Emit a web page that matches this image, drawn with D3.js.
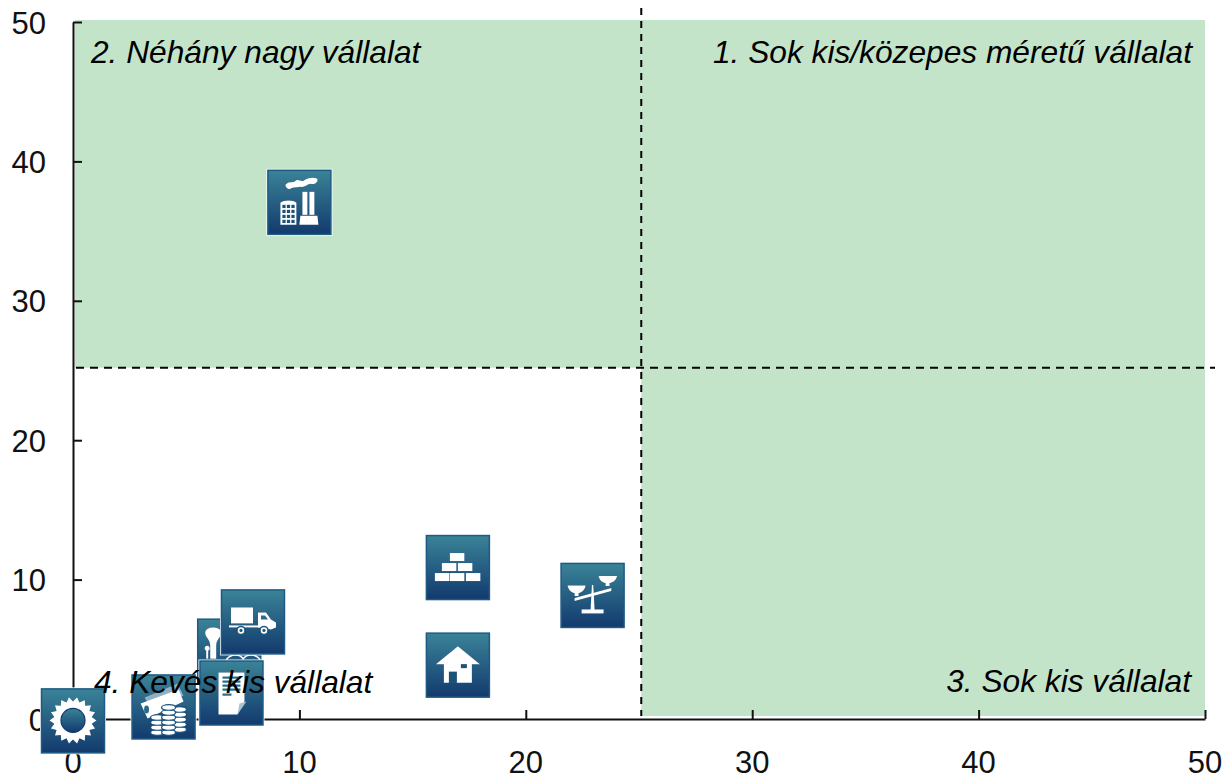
<!DOCTYPE html>
<html>
<head>
  <meta charset="UTF-8">
  <title>Vállalatok</title>
  <script src="https://d3js.org/d3.v7.min.js"></script>
  <style>
    html, body { margin: 0; padding: 0; background: #fff; }
    svg { display: block; }
    text { font-family: "Liberation Sans", Arial, sans-serif; fill: #000; }
    .tick-label { font-size: 31px; fill: #111; }
    .quad-label { font-size: 31.7px; font-style: italic; }
    .glyph { filter: drop-shadow(0 0 0.6px #123a6e); }
  </style>
</head>
<body>
  <div id="chart"></div>
  <script>
    const sectors = ["sun", "money", "tree", "doc", "truck", "house", "bricks", "scale", "factory"];
    const xValues = [0, 4, 6.9, 7, 7.95, 17, 17, 22.95, 10];
    const yValues = [-0.1, 0.9, 4.9, 1.9, 7, 3.9, 10.9, 8.9, 37.1];
    const tickValues = [0, 10, 20, 30, 40, 50];
    const splitX = 25.1;
    const splitY = 25.2;
    const quadrantNames = ["1. Sok kis/közepes méretű vállalat", "2. Néhány nagy vállalat", "3. Sok kis vállalat", "4. Kevés kis vállalat"];

    const width = 1223, height = 776;
    const x = d3.scaleLinear().domain([0, 50]).range([73, 1205]);
    const y = d3.scaleLinear().domain([0, 50]).range([719, 22]);

    const svg = d3.select("#chart").append("svg")
      .attr("width", width)
      .attr("height", height);

    const defs = svg.append("defs");
    const grad = defs.append("linearGradient")
      .attr("id", "iconBg")
      .attr("x1", 0).attr("y1", 0).attr("x2", 0).attr("y2", 1);
    grad.append("stop").attr("offset", "0%").attr("stop-color", "#3a8397");
    grad.append("stop").attr("offset", "100%").attr("stop-color", "#123a6e");

    // green quadrants
    const green = "#c3e4c9";
    svg.append("rect")
      .attr("x", x(0) + 2).attr("y", 20)
      .attr("width", x(splitX) - x(0) - 2).attr("height", y(splitY) - 20)
      .attr("fill", green);
    svg.append("rect")
      .attr("x", x(splitX)).attr("y", 20)
      .attr("width", x(50) - x(splitX)).attr("height", 716 - 20)
      .attr("fill", green);

    // axes, ticks point inwards
    const axisX = svg.append("g").attr("transform", `translate(0,${y(0)})`)
      .call(d3.axisTop(x).tickValues(tickValues).tickSize(9).tickSizeOuter(0).tickFormat(""));
    const axisY = svg.append("g").attr("transform", `translate(${x(0)},0)`)
      .call(d3.axisRight(y).tickValues(tickValues).tickSize(9).tickSizeOuter(0).tickFormat(""));
    [axisX, axisY].forEach(a => {
      a.selectAll("path,line").attr("stroke", "#111").attr("stroke-width", 2);
    });

    svg.selectAll(".xlab").data(tickValues).enter().append("text")
      .attr("class", "tick-label")
      .attr("x", d => x(d))
      .attr("y", 773)
      .attr("text-anchor", "middle")
      .text(d => d);
    svg.selectAll(".ylab").data(tickValues).enter().append("text")
      .attr("class", "tick-label")
      .attr("x", 46)
      .attr("y", d => y(d) + 11.5)
      .attr("text-anchor", "end")
      .text(d => d);

    // dashed split lines
    svg.append("line")
      .attr("x1", x(splitX)).attr("x2", x(splitX))
      .attr("y1", 8).attr("y2", 716)
      .attr("stroke", "#000").attr("stroke-width", 2).attr("stroke-dasharray", "7,6");
    svg.append("line")
      .attr("x1", x(0) + 3).attr("x2", 1215)
      .attr("y1", y(splitY)).attr("y2", y(splitY))
      .attr("stroke", "#000").attr("stroke-width", 2).attr("stroke-dasharray", "8,6");

    // icon glyphs, local box is -32..32
    const white = "#fff";
    const glyphs = {
      sun(g) {
        const n = 18, pts = [];
        for (let i = 0; i < n * 2; i++) {
          const r = i % 2 ? 19 : 23.5, a = i * Math.PI / n;
          pts.push([r * Math.cos(a), r * Math.sin(a)]);
        }
        g.append("polygon").attr("points", pts.join(" ")).attr("fill", white);
        g.append("circle").attr("r", 12).attr("fill", "url(#iconBg)")
          .attr("stroke", "#123a6e").attr("stroke-width", 1.2);
      },
      money(g) {
        g.append("path").attr("d", "M-19,-9L14,-23L20,-11L-12,4Z").attr("fill", "#8fb0c4");
        g.append("path").attr("d", "M-23,-3L15,-17L20,-5L-16,12Z").attr("fill", white);
        g.append("ellipse").attr("cx", -17).attr("cy", 3).attr("rx", 2.5).attr("ry", 4).attr("fill", "#2c6a8a");
        [[-6, 26, 4], [16, 23, 5], [5, 26, 6]].forEach(([cx, bottom, n]) => {
          for (let i = 0; i < n; i++) {
            g.append("ellipse").attr("cx", cx).attr("cy", bottom - i * 5)
              .attr("rx", 7).attr("ry", 2.8)
              .attr("fill", white).attr("stroke", "#1d5580").attr("stroke-width", 1.2);
          }
        });
      },
      tree(g) {
        g.append("path").attr("d", "M-24,-18C-24,-25 -8,-25 -8,-18C-8,-13 -13,-12 -13,-5L-13,8L-19,8L-19,-5C-19,-12 -24,-13 -24,-18Z").attr("fill", white);
        g.append("rect").attr("x", -23).attr("y", -1).attr("width", 2).attr("height", 9).attr("fill", white);
        g.append("circle").attr("cx", -22).attr("cy", -2.5).attr("r", 2.5).attr("fill", white);
        g.append("path").attr("d", "M-3,9C2,3 10,3 14,8C18,3 26,3 31,9")
          .attr("fill", "none").attr("stroke", white).attr("stroke-width", 1.6);
      },
      doc(g) {
        g.append("path").attr("d", "M-13,-20L13,-20L13,9L6,22L-13,22Z").attr("fill", white);
        [-16, -12, -8, -4].forEach(ly => {
          g.append("rect").attr("x", -9).attr("y", ly).attr("width", 18).attr("height", 2.2).attr("fill", "#2c6a8a");
        });
        g.append("rect").attr("x", -9).attr("y", 1).attr("width", 9).attr("height", 2.2).attr("fill", "#2c6a8a");
        g.append("path").attr("d", "M6,22L8,11L15,9Z").attr("fill", "#a9c3d3");
      },
      truck(g) {
        g.append("rect").attr("x", -22).attr("y", -14).attr("width", 22).attr("height", 16).attr("fill", white);
        g.append("rect").attr("x", -24).attr("y", 4).attr("width", 30).attr("height", 2).attr("fill", white);
        g.append("path").attr("d", "M5,-9L13,-9L18,-2L23,1L23,6L18,8L5,6Z").attr("fill", white);
        g.append("path").attr("d", "M8,-6L12,-6L15,-2L8,-2Z").attr("fill", "#2c6a8a");
        [-12, 11].forEach(cx => {
          g.append("circle").attr("cx", cx).attr("cy", 9).attr("r", 4)
            .attr("fill", white).attr("stroke", "#1c5a80").attr("stroke-width", 1.5);
          g.append("circle").attr("cx", cx).attr("cy", 9).attr("r", 1.6).attr("fill", "#1c5a80");
        });
      },
      house(g) {
        g.append("path").attr("d", "M0,-18.5L22,-0.5L14,-0.5L14,18L-14,18L-14,-0.5L-22,-0.5Z").attr("fill", white);
        g.append("rect").attr("x", -9).attr("y", 7).attr("width", 8).attr("height", 11.5).attr("fill", "#1c5178");
        g.append("rect").attr("x", 3).attr("y", -0.5).attr("width", 6).attr("height", 4).attr("fill", "#1c5178");
      },
      bricks(g) {
        [[-8, -14], [-16, -4], [0, -4], [-23, 6], [-8, 6], [8, 6]].forEach(([bx, by]) => {
          g.append("rect").attr("x", bx).attr("y", by).attr("width", 14.5).attr("height", 8).attr("fill", white);
        });
      },
      scale(g) {
        g.append("path").attr("d", "M-18,3L18.7,-7L18.7,-4L-18,6Z").attr("fill", white);
        g.append("path").attr("d", "M-0.7,-10L0.7,-10L2,15L-2,15Z").attr("fill", white);
        g.append("rect").attr("x", -11).attr("y", 14.5).attr("width", 22).attr("height", 4).attr("fill", white);
        g.append("path").attr("d", "M-25,-9.5L-7,-9.5C-8,-4 -12,-2 -14,-2L-14,1L-18,1L-18,-2C-20,-2 -24,-4 -25,-9.5Z").attr("fill", white);
        g.append("path").attr("d", "M6,-19L24.5,-19C23.5,-14 19,-12 17,-12L17,-9L13,-9L13,-12C11,-12 7,-14 6,-19Z").attr("fill", white);
      },
      factory(g) {
        g.append("path").attr("d", "M-14,-17C-11,-21 -8,-19 -5,-20C-2,-24 1,-20 4,-21C8,-24 14,-25 18,-23C19,-19 15,-17 11,-18C7,-17 5,-14 1,-15C-3,-14 -6,-15 -9,-13C-11,-12 -14,-14 -14,-17Z").attr("fill", white);
        g.append("rect").attr("x", 3).attr("y", -10).attr("width", 5).attr("height", 23).attr("fill", white);
        g.append("rect").attr("x", 10).attr("y", -10).attr("width", 5).attr("height", 23).attr("fill", white);
        g.append("path").attr("d", "M1,14L18,14L19,23L0,23Z").attr("fill", white);
        g.append("path").attr("d", "M-19,1C-16,-2 -6,-2 -3,1L-3,23L-19,23Z").attr("fill", white);
        [3, 8, 13, 18].forEach(ly => [-17, -12.5, -8].forEach(lx => {
          g.append("rect").attr("x", lx).attr("y", ly).attr("width", 3.2).attr("height", 3.2).attr("fill", "#1c5178");
        }));
      }
    };

    // order of drawing keeps doc and truck on top of tree
    sectors.forEach((name, i) => {
      const g = svg.append("g")
        .attr("class", "icon")
        .attr("transform", `translate(${x(xValues[i])},${y(yValues[i])})`);
      g.append("rect")
        .attr("x", -33).attr("y", -33)
        .attr("width", 66).attr("height", 67)
        .attr("fill", "#fff");
      g.append("rect")
        .attr("x", -31.5).attr("y", -31.5)
        .attr("width", 63).attr("height", 64)
        .attr("fill", "url(#iconBg)")
        .attr("stroke", "#1f5a85").attr("stroke-width", 1.5);
      glyphs[name](g.append("g").attr("class", "glyph"));
    });

    // quadrant captions
    const captions = [
      { i: 0, px: 1192, py: 63, anchor: "end" },
      { i: 1, px: 91, py: 63, anchor: "start" },
      { i: 2, px: 1191, py: 692, anchor: "end" },
      { i: 3, px: 94, py: 693, anchor: "start" }
    ];
    svg.selectAll(".quad-label").data(captions).enter().append("text")
      .attr("class", "quad-label")
      .attr("x", d => d.px)
      .attr("y", d => d.py)
      .attr("text-anchor", d => d.anchor)
      .text(d => quadrantNames[d.i]);
  </script>
</body>
</html>
